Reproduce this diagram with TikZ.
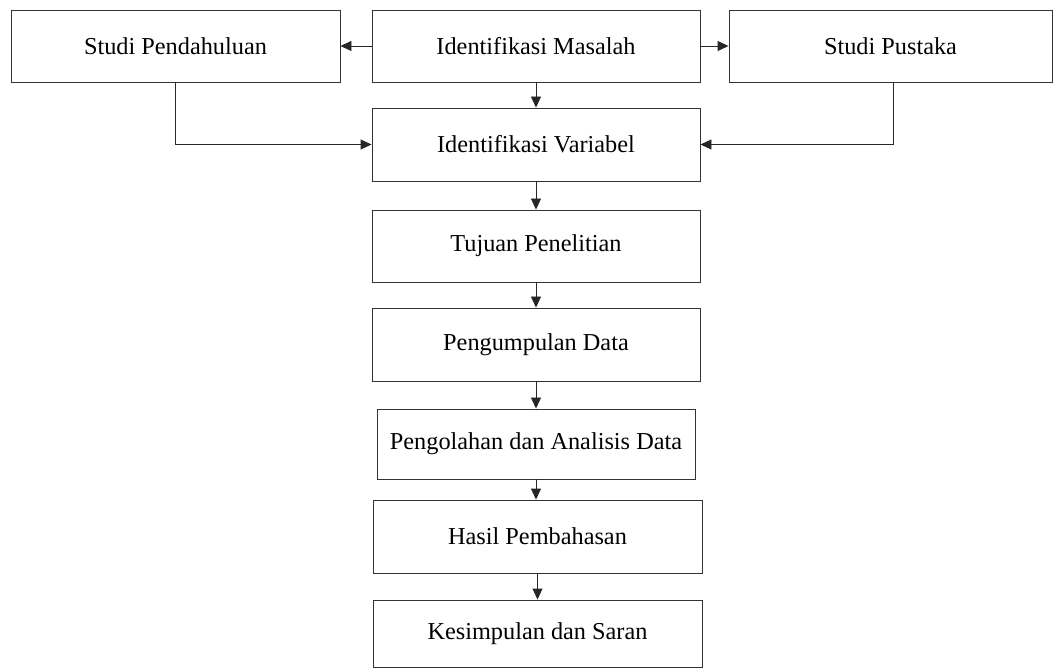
\documentclass[tikz,border=0pt]{standalone}
\usepackage{fontspec}
\setmainfont{Liberation Serif}
\usetikzlibrary{arrows.meta}
\begin{document}
\begin{tikzpicture}[x=1pt,y=-1pt,
  box/.style={draw=black!80, line width=0.9pt, rectangle, inner sep=0pt, font=\fontsize{24.3}{28}\selectfont},
  conn/.style={draw=black!85, line width=0.9pt, -{Triangle[length=11pt,width=10pt]}}]
\useasboundingbox (0,0) rectangle (1053,668);
\node[box, minimum width=329pt, minimum height=72pt] (sp) at (175.5,46) {Studi Pendahuluan};
\node[box, minimum width=328pt, minimum height=72pt] (im) at (536,46) {Identifikasi Masalah};
\node[box, minimum width=323pt, minimum height=72pt] (spk) at (890.5,46) {Studi Pustaka};
\node[box, minimum width=328pt, minimum height=73pt] (iv) at (536,144.5) {Identifikasi Variabel};
\node[box, minimum width=328pt, minimum height=72pt] (tp) at (536,246) {Tujuan Penelitian};
\node[box, minimum width=328pt, minimum height=73pt] (pd) at (536,344.5) {Pengumpulan Data};
\node[box, minimum width=318pt, minimum height=70pt] (pa) at (536,444) {Pengolahan dan Analisis Data};
\node[box, minimum width=329pt, minimum height=73pt] (hp) at (537.5,536.5) {Hasil Pembahasan};
\node[box, minimum width=329pt, minimum height=67pt] (ks) at (537.5,633.5) {Kesimpulan dan Saran};
\draw[conn] (im.west) -- (sp.east);
\draw[conn] (im.east) -- (spk.east -| spk.west);
\draw[conn] (sp.south) |- (iv.west);
\draw[conn] (spk.south -| 893,0) |- (iv.east);
\draw[conn] (im.south) -- (im.south |- iv.north);
\draw[conn] (iv.south) -- (iv.south |- tp.north);
\draw[conn] (tp.south) -- (tp.south |- pd.north);
\draw[conn] (pd.south) -- (pd.south |- pa.north);
\draw[conn] (pa.south) -- (pa.south |- hp.north);
\draw[conn] (hp.south) -- (hp.south |- ks.north);
\end{tikzpicture}
\end{document}
